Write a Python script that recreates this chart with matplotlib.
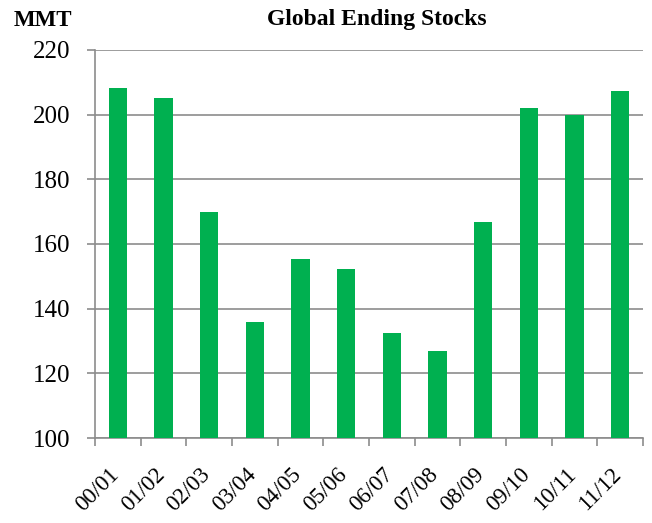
import matplotlib
matplotlib.use("Agg")
import matplotlib.pyplot as plt
import matplotlib.transforms as mtransforms
import numpy as np

seasons = ['00/01', '01/02', '02/03', '03/04', '04/05', '05/06',
           '06/07', '07/08', '08/09', '09/10', '10/11', '11/12']
stocks = [208.4, 205.1, 169.9, 135.8, 155.4, 152.2,
          132.6, 126.9, 166.9, 202.0, 199.8, 207.2]
yticks = [100, 120, 140, 160, 180, 200, 220]

plt.rcParams['font.family'] = ['Liberation Serif', 'DejaVu Serif']

fig = plt.figure(figsize=(6.52, 5.23), dpi=100)
ax = fig.add_axes([95 / 652, 1 - 438 / 523, 548 / 652, 388 / 523])

x = np.arange(len(seasons))
ax.bar(x, stocks, width=0.4, color='#00B050', zorder=3)

ax.set_ylim(100, 220)
ax.set_xlim(-0.5, len(seasons) - 0.5)
ax.set_yticks(yticks)
ax.set_yticklabels([str(t) for t in yticks], fontsize=18)
ax.yaxis.grid(True, color='#8c8c8c', linewidth=1.2, zorder=0)
ax.tick_params(axis='y', length=6, color='#8c8c8c', width=1.2, pad=12)

ax.set_xticks(x)
ax.set_xticklabels(seasons, rotation=45, ha='right', va='center',
                   rotation_mode='anchor', fontsize=16.5)
ax.tick_params(axis='x', which='major', length=0, pad=24)
offset = mtransforms.ScaledTranslation(-2 / 100, 0, fig.dpi_scale_trans)
for lbl in ax.get_xticklabels():
    lbl.set_transform(lbl.get_transform() + offset)
ax.set_xticks(np.arange(-0.5, len(seasons)), minor=True)
ax.tick_params(axis='x', which='minor', length=6, color='#8c8c8c', width=1.2)

for s in ['top', 'right']:
    ax.spines[s].set_visible(False)
for s in ['left', 'bottom']:
    ax.spines[s].set_color('#8c8c8c')
    ax.spines[s].set_linewidth(1.2)

fig.text(377 / 652, 1 - 20 / 523, 'Global Ending Stocks', ha='center',
         va='center', fontsize=17, fontweight='bold')
fig.text(14 / 652, 1 - 20 / 523, 'MMT', ha='left', va='center',
         fontsize=16.5, fontweight='bold')

fig.savefig('out.png', dpi=100)
